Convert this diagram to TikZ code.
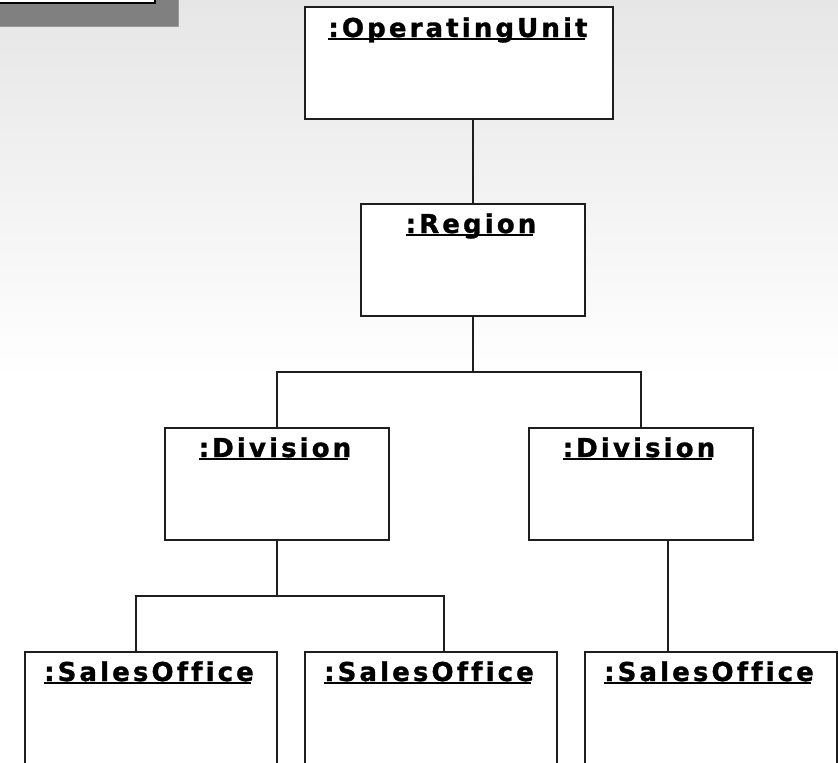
\documentclass[tikz,border=0pt]{standalone}
\usepackage{fontspec}
\newfontfamily\lblfont{DejaVu Sans Bold}[LetterSpace=12,Ligatures=NoCommon,FakeBold=1.2]
\usetikzlibrary{calc}
\definecolor{bgtop}{HTML}{E6E6E6}
\definecolor{boxline}{HTML}{1E1E1E}
\definecolor{shadowgray}{HTML}{808080}
\definecolor{shadowedge}{HTML}{9A9A9A}
\tikzset{
  objbox/.style={draw=boxline, fill=white, line width=2pt, inner sep=0pt, rectangle},
  lbltext/.style={inner sep=0pt, outer sep=0pt, anchor=base, font=\fontsize{26pt}{31pt}\lblfont},
  uline/.style={line width=2pt, draw=black},
  conn/.style={line width=2pt, draw=boxline}
}
\begin{document}
\begin{tikzpicture}[x=1pt,y=-1pt]
\useasboundingbox (0,0) rectangle (838,763);
\clip (0,0) rectangle (838,763);
% background
\shade[top color=bgtop, bottom color=white] (0,0) rectangle (838,380);
\fill[white] (0,380) rectangle (838,763);
% top-left fragment
\fill[shadowgray] (-2,-2) rectangle (178,26);
\draw[shadowedge, line width=0.8pt] (0,26) -- (178,26) -- (178,-2);
\draw[fill=white, draw=black, line width=1.3pt] (-4,-4) rectangle (155,3);
% boxes
\node[objbox, minimum width=308pt, minimum height=112pt] (ou) at (459,63) {};
\node[objbox, minimum width=224pt, minimum height=112pt] (rg) at (473,260) {};
\node[objbox, minimum width=224pt, minimum height=112pt] (d1) at (277,484) {};
\node[objbox, minimum width=224pt, minimum height=112pt] (d2) at (641,484) {};
\node[objbox, minimum width=252pt, minimum height=140pt] (s1) at (151,722) {};
\node[objbox, minimum width=252pt, minimum height=140pt] (s2) at (431,722) {};
\node[objbox, minimum width=252pt, minimum height=140pt] (s3) at (711,722) {};
% labels
\node[lbltext] (tou) at (458,37) {:OperatingUnit};
\node[lbltext] (trg) at (471,233) {:Region};
\node[lbltext] (td1) at (275,457) {:Division};
\node[lbltext] (td2) at (639,457) {:Division};
\node[lbltext] (ts1) at (149,681) {:SalesOffice};
\node[lbltext] (ts2) at (429,681) {:SalesOffice};
\node[lbltext] (ts3) at (709,681) {:SalesOffice};
\foreach \t in {tou,trg,td1,td2,ts1,ts2,ts3}{
  \draw[uline] ([yshift=-2pt]\t.base west) -- ([yshift=-2pt,xshift=-3pt]\t.base east);
}
% connectors
\draw[conn] (rg.north |- ou.south) -- (rg.north);
\coordinate (j1) at (473,372);
\draw[conn] (rg.south) -- (j1);
\draw[conn] (d1.north) |- (j1) -| (d2.north);
\coordinate (j2) at (277,596);
\draw[conn] (d1.south) -- (j2);
\draw[conn] ([xshift=112pt]s1.north west) |- (j2) -| ([xshift=140pt]s2.north west);
\draw[conn] ([xshift=140pt]d2.south west) -- ([xshift=84pt]s3.north west);
\end{tikzpicture}
\end{document}
